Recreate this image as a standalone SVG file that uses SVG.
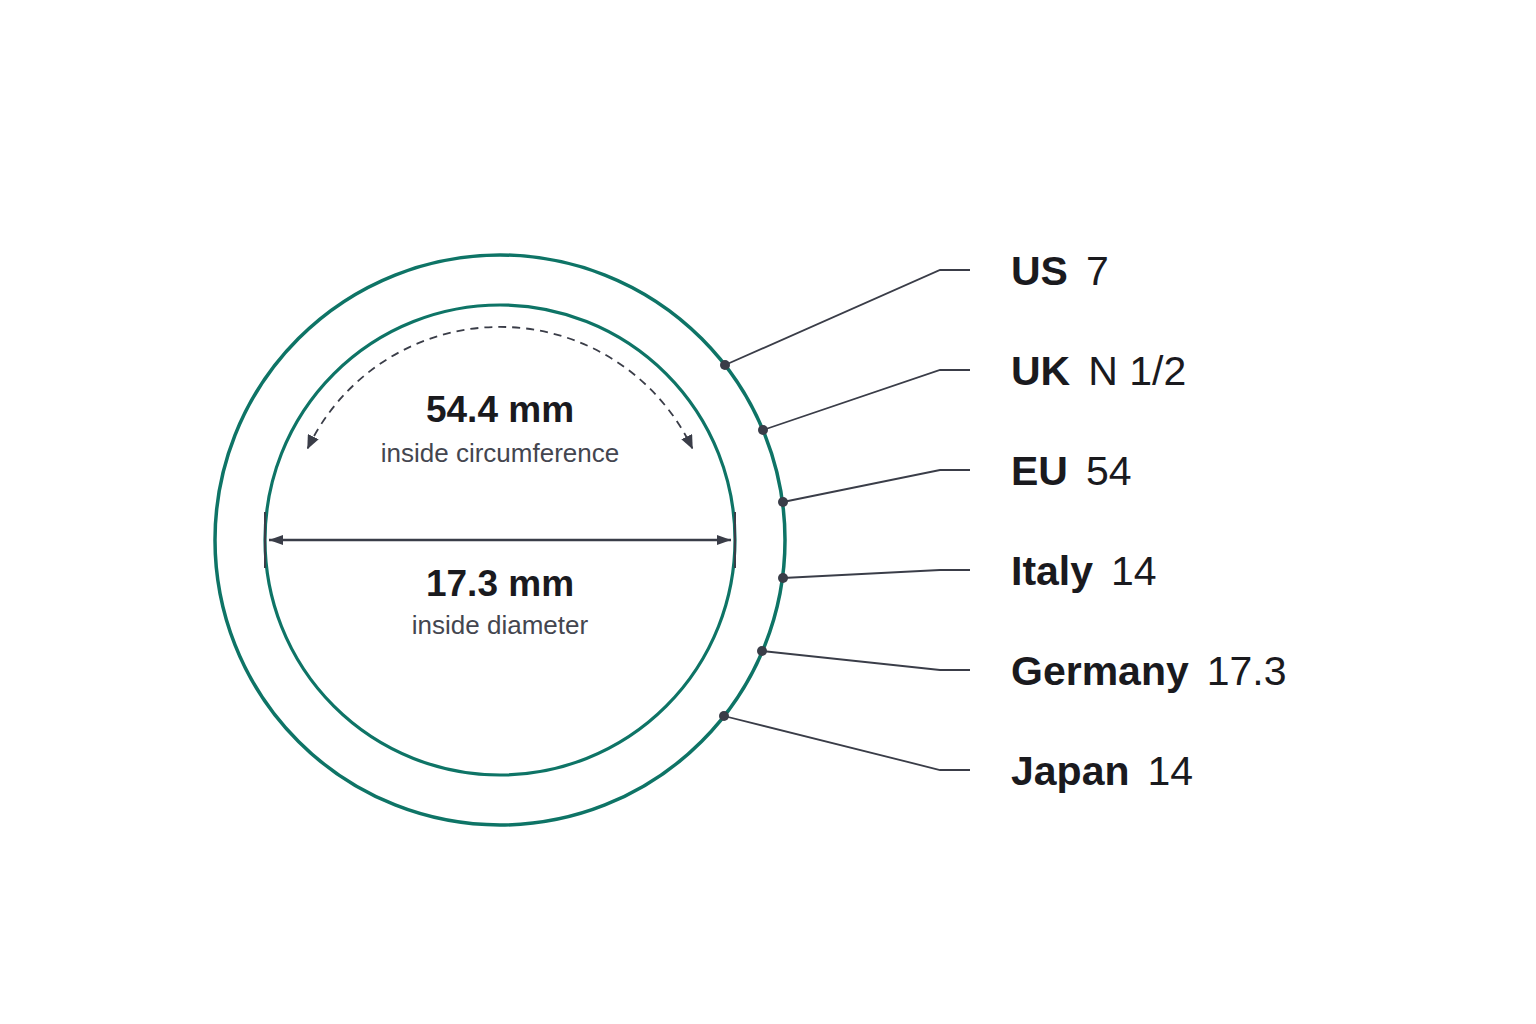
<svg xmlns="http://www.w3.org/2000/svg" width="1536" height="1024" viewBox="0 0 1536 1024">
  <defs>
    <marker id="arrow" viewBox="0 0 14 10" refX="14" refY="5" markerWidth="14" markerHeight="10" markerUnits="userSpaceOnUse" orient="auto-start-reverse">
      <path d="M0,0 L14,5 L0,10 z" fill="#3a3d48"/>
    </marker>
    <marker id="arrowS" viewBox="0 0 14 12" refX="13" refY="6" markerWidth="14" markerHeight="12" markerUnits="userSpaceOnUse" orient="auto-start-reverse">
      <path d="M0,0 L14,6 L0,12 z" fill="#3a3d48"/>
    </marker>
  </defs>
  <style>
    .ring { fill: none; stroke: #0e7466; }
    .leader { fill: none; stroke: #3a3d48; stroke-width: 1.8; }
    .dot { fill: #3a3d48; }
    .big { font-family: "Liberation Sans", Arial, sans-serif; font-weight: bold; font-size: 37px; fill: #1a1a1e; text-anchor: middle; }
    .sub { font-family: "Liberation Sans", Arial, sans-serif; font-size: 26px; fill: #44464f; text-anchor: middle; }
    .lab { font-family: "Liberation Sans", Arial, sans-serif; font-size: 41px; fill: #1a1a1e; }
    .lab .b { font-weight: bold; }
  </style>
  <rect width="1536" height="1024" fill="#ffffff"/>

  <g id="ring">
    <circle class="ring" cx="500" cy="540" r="285" stroke-width="3.5"/>
    <circle class="ring" cx="500" cy="540" r="235" stroke-width="3.2"/>
    <line x1="265" y1="512" x2="265" y2="568" stroke="#3a3d48" stroke-width="2"/>
    <line x1="735" y1="512" x2="735" y2="568" stroke="#3a3d48" stroke-width="2"/>
  </g>

  <g id="circumference">
    <path d="M307.7,448.3 A213,213 0 0 1 692.3,448.3" fill="none" stroke="#3a3d48" stroke-width="1.8" stroke-dasharray="8 6" marker-start="url(#arrowS)" marker-end="url(#arrowS)"/>
    <text class="big" x="500" y="422">54.4 mm</text>
    <text class="sub" x="500" y="462">inside circumference</text>
  </g>

  <g id="diameter">
    <line x1="269" y1="540" x2="731" y2="540" stroke="#3a3d48" stroke-width="2.5" marker-start="url(#arrow)" marker-end="url(#arrow)"/>
    <text class="big" x="500" y="596">17.3 mm</text>
    <text class="sub" x="500" y="634">inside diameter</text>
  </g>

  <g id="connectors">
    <polyline class="leader" points="725,365 940,270 970,270"/>
    <polyline class="leader" points="763,430 940,370 970,370"/>
    <polyline class="leader" points="783,502 940,470 970,470"/>
    <polyline class="leader" points="783,578 940,570 970,570"/>
    <polyline class="leader" points="762,651 940,670 970,670"/>
    <polyline class="leader" points="724,716 940,770 970,770"/>
    <circle class="dot" cx="725" cy="365" r="5"/>
    <circle class="dot" cx="763" cy="430" r="5"/>
    <circle class="dot" cx="783" cy="502" r="5"/>
    <circle class="dot" cx="783" cy="578" r="5"/>
    <circle class="dot" cx="762" cy="651" r="5"/>
    <circle class="dot" cx="724" cy="716" r="5"/>
  </g>

  <g id="label-us"><text class="lab" x="1011" y="285"><tspan class="b">US</tspan><tspan dx="18">7</tspan></text></g>
  <g id="label-uk"><text class="lab" x="1011" y="385"><tspan class="b">UK</tspan><tspan dx="18">N 1/2</tspan></text></g>
  <g id="label-eu"><text class="lab" x="1011" y="485"><tspan class="b">EU</tspan><tspan dx="18">54</tspan></text></g>
  <g id="label-italy"><text class="lab" x="1011" y="585"><tspan class="b">Italy</tspan><tspan dx="18">14</tspan></text></g>
  <g id="label-germany"><text class="lab" x="1011" y="685"><tspan class="b">Germany</tspan><tspan dx="18">17.3</tspan></text></g>
  <g id="label-japan"><text class="lab" x="1011" y="785"><tspan class="b">Japan</tspan><tspan dx="18">14</tspan></text></g>
</svg>
